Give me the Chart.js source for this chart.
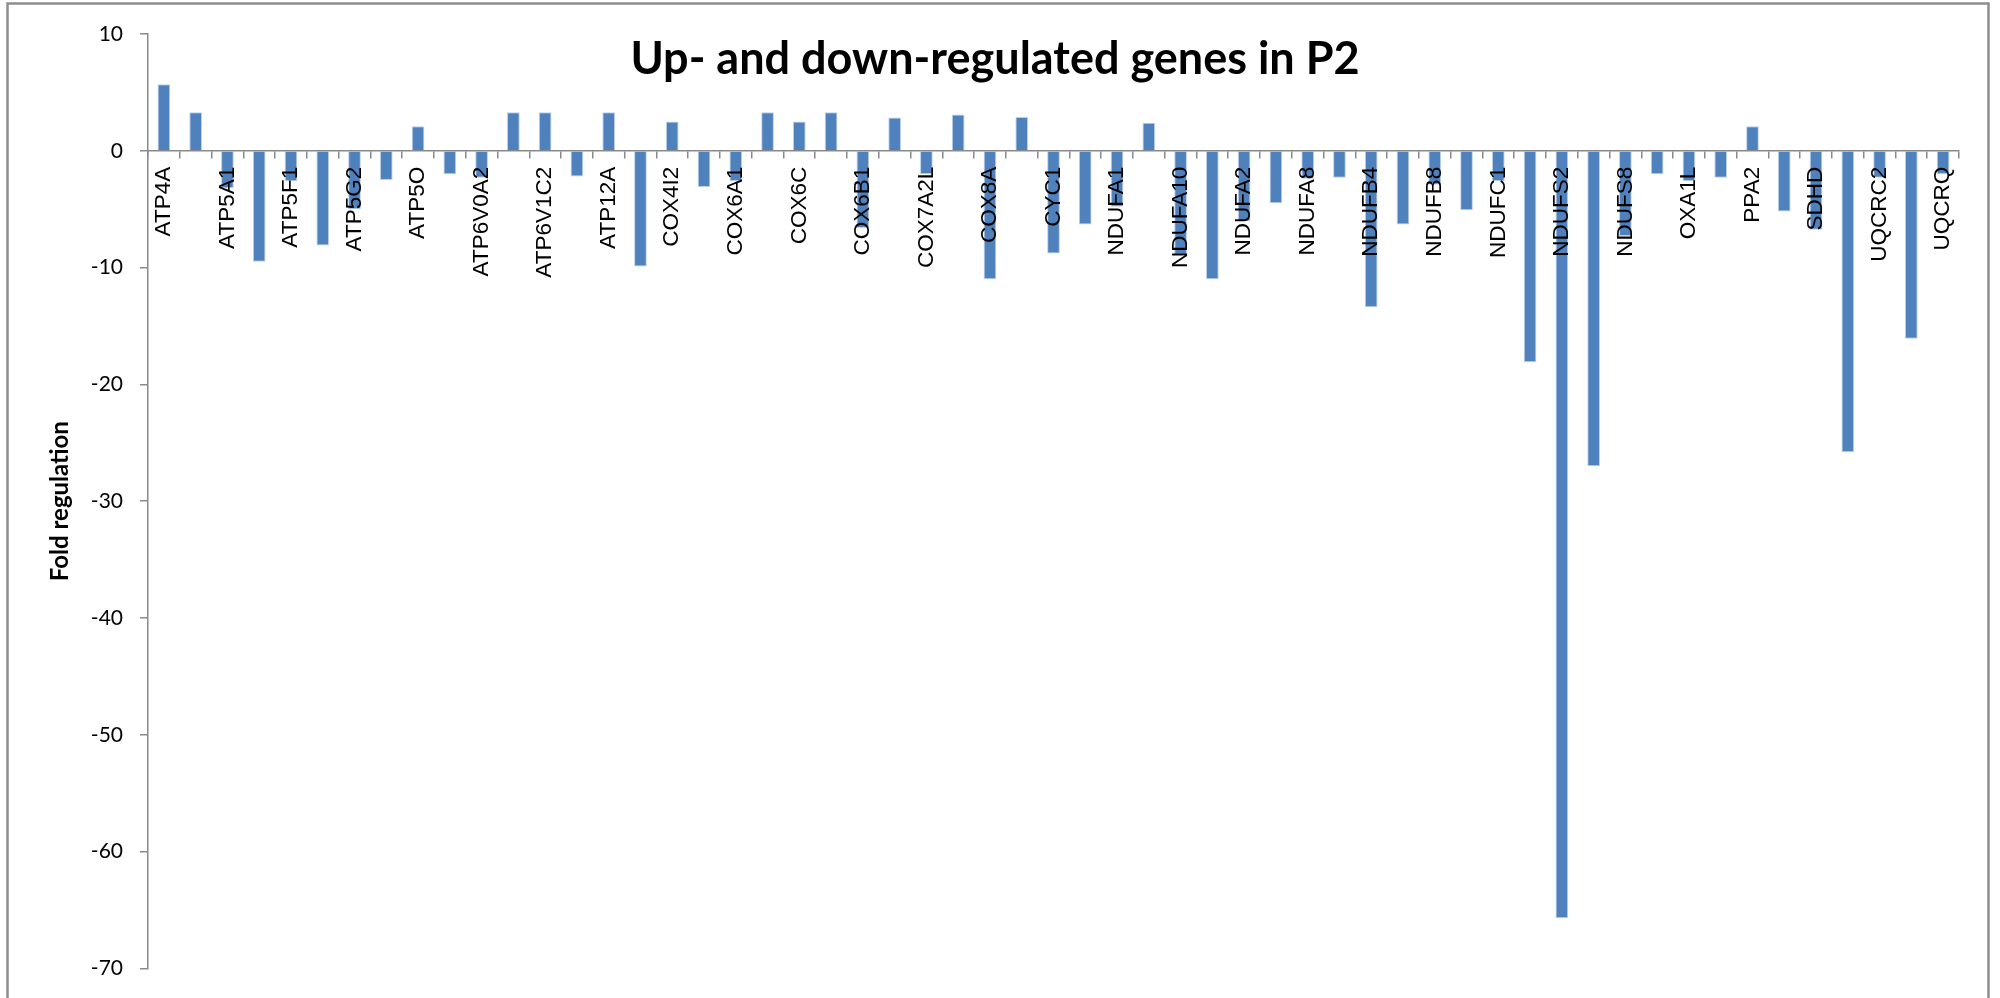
<!DOCTYPE html>
<html>
<head>
<meta charset="utf-8">
<script src="https://cdn.jsdelivr.net/npm/chart.js@4.4.1/dist/chart.umd.min.js"></script>
<style>
  html, body { margin: 0; padding: 0; background: #ffffff; }
  canvas { display: block; }
</style>
</head>
<body>
<canvas id="chart" width="2000" height="998"></canvas>
<script>
// Mitochondrial energy-metabolism genes, fold regulation in P2
const genes = [
  'ATP4A', 'ATP4B', 'ATP5A1', 'ATP5B', 'ATP5F1', 'ATP5G1', 'ATP5G2', 'ATP5J',
  'ATP5O', 'ATP6AP1', 'ATP6V0A2', 'ATP6V0D2', 'ATP6V1C2', 'ATP6V1E2', 'ATP12A', 'BCS1L',
  'COX4I2', 'COX5A', 'COX6A1', 'COX6A2', 'COX6C', 'COX6B2', 'COX6B1', 'COX7A2',
  'COX7A2L', 'COX7B', 'COX8A', 'COX8C', 'CYC1', 'LHPP', 'NDUFA1', 'NDUFA4',
  'NDUFA10', 'NDUFA11', 'NDUFA2', 'NDUFA6', 'NDUFA8', 'NDUFAB1', 'NDUFB4', 'NDUFB5',
  'NDUFB8', 'NDUFB9', 'NDUFC1', 'NDUFC2', 'NDUFS2', 'NDUFS3', 'NDUFS8', 'NDUFV1',
  'OXA1L', 'PPA1', 'PPA2', 'SDHB', 'SDHD', 'UQCRC1', 'UQCRC2', 'UQCRH', 'UQCRQ'
];

const foldRegulation = [
  5.7, 3.3, -3.2, -9.5, -2.6, -8.1, -5.0, -2.5,
  2.1, -2.0, -2.3, 3.3, 3.3, -2.2, 3.3, -9.9,
  2.5, -3.1, -2.6, 3.3, 2.5, 3.3, -6.6, 2.85,
  -2.0, 3.1, -11.0, 2.9, -8.8, -6.3, -4.8, 2.4,
  -8.9, -11.0, -6.0, -4.5, -2.4, -2.3, -13.4, -6.3,
  -2.9, -5.1, -2.6, -18.1, -65.7, -27.0, -7.3, -2.0,
  -2.6, -2.3, 2.1, -5.2, -6.75, -25.8, -2.3, -16.1, -2.0
];

const yTicks = [10, 0, -10, -20, -30, -40, -50, -60, -70];

const chartTitle = 'Up- and down-regulated genes in P2';
const yAxisTitle = 'Fold regulation';

const axisGray = '#898989';

// White background, outer frame and the chart heading
const framePlugin = {
  id: 'frame',
  beforeDraw(chart) {
    const ctx = chart.ctx;
    ctx.save();
    ctx.fillStyle = '#ffffff';
    ctx.fillRect(0, 0, chart.width, chart.height);
    ctx.restore();
  },
  afterDraw(chart) {
    const ctx = chart.ctx;
    ctx.save();
    ctx.strokeStyle = '#8e8e8e';
    ctx.lineWidth = 2.5;
    ctx.strokeRect(7.5, 3.5, 1981, 1010);
    ctx.fillStyle = '#000000';
    ctx.font = 'bold 45px Lato';
    ctx.textAlign = 'center';
    ctx.textBaseline = 'alphabetic';
    ctx.fillText(chartTitle, 995, 74);
    ctx.restore();
  }
};

new Chart(document.getElementById('chart'), {
  type: 'bar',
  data: {
    labels: genes,
    datasets: [{
      data: foldRegulation,
      backgroundColor: '#4F81BD',
      borderColor: '#bcd0e8',
      borderWidth: 1,
      barPercentage: 0.4,
      categoryPercentage: 1.0
    }]
  },
  options: {
    responsive: false,
    animation: false,
    layout: { padding: { left: 0, top: 34, right: 41, bottom: 26 } },
    plugins: {
      legend: { display: false },
      tooltip: { enabled: false },
      title: { display: false }
    },
    scales: {
      x: {
        position: { y: 0 },
        offset: true,
        afterFit(scale) { scale.height = 0; },
        grid: {
          display: true,
          offset: true,
          drawOnChartArea: false,
          drawTicks: true,
          tickLength: 7,
          color: axisGray,
          lineWidth: 1.5,
          z: 1
        },
        border: { display: true, color: axisGray, width: 1.5, z: 1 },
        ticks: {
          z: 1,
          autoSkip: false,
          minRotation: 90,
          maxRotation: 90,
          padding: 9,
          color: '#000000',
          font: { family: 'Liberation Sans', size: 22.5 },
          callback(value, index) {
            return index % 2 === 0 ? genes[index] : '';
          }
        }
      },
      y: {
        min: -70,
        max: 10,
        afterFit(scale) { scale.width = 148; },
        afterBuildTicks(scale) {
          scale.ticks = yTicks.map(v => ({ value: v }));
        },
        grid: {
          display: true,
          drawOnChartArea: false,
          drawTicks: true,
          tickLength: 8,
          color: axisGray,
          lineWidth: 1.5
        },
        border: { display: true, color: axisGray, width: 1.5 },
        ticks: {
          padding: 17,
          color: '#000000',
          font: { family: 'Lato', size: 21 }
        },
        title: {
          display: true,
          text: yAxisTitle,
          color: '#000000',
          font: { family: 'Lato', weight: 'bold', size: 24 },
          padding: { top: 46, bottom: 0 }
        }
      }
    }
  },
  plugins: [framePlugin]
});
</script>
</body>
</html>
